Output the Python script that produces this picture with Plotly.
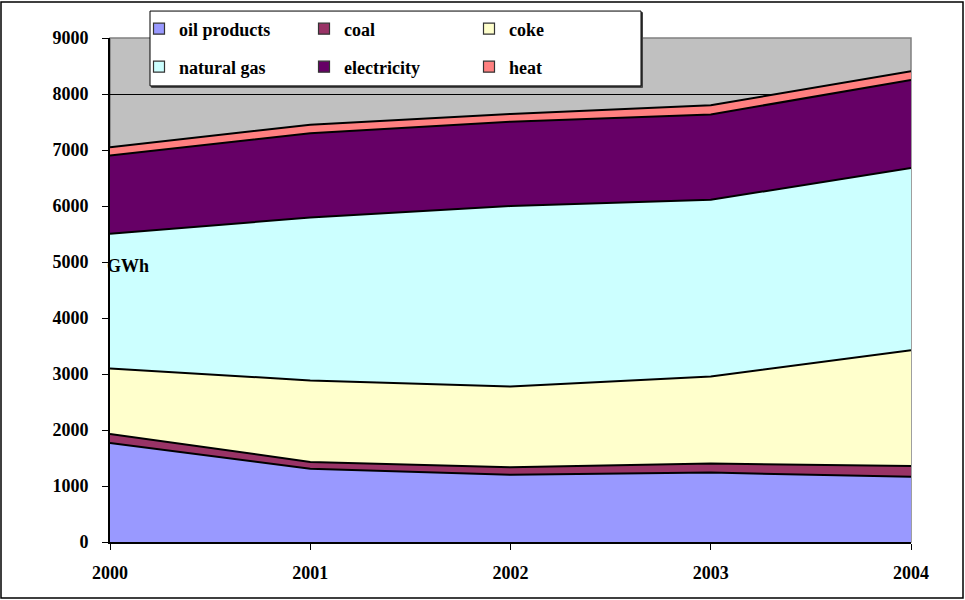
import plotly.graph_objects as go

years = [2000, 2001, 2002, 2003, 2004]
year_labels = ["2000", "2001", "2002", "2003", "2004"]

# GWh by carrier (stacked bottom to top)
oil_products = [1770, 1310, 1200, 1240, 1165]
coal = [160, 120, 135, 160, 190]
coke = [1170, 1455, 1440, 1555, 2070]
natural_gas = [2405, 2910, 3225, 3155, 3255]
electricity = [1395, 1505, 1505, 1525, 1570]
heat = [150, 150, 140, 165, 155]

series_names = ["oil products", "coal", "coke", "natural gas", "electricity", "heat"]
series_values = [oil_products, coal, coke, natural_gas, electricity, heat]
series_colors = ["#9999FF", "#993366", "#FFFFCC", "#CCFFFF", "#660066", "#FF8080"]
legend_ids = ["legend", "legend", "legend", "legend2", "legend2", "legend2"]

y_ticks = list(range(0, 9001, 1000))

W, H = 965, 600
ML, MR, MT, MB = 110, 54, 37, 58
PW, PH = W - ML - MR, H - MT - MB

FONT = "Liberation Serif, Times New Roman, serif"

fig = go.Figure()
for name, vals, col in zip(series_names, series_values, series_colors):
    fig.add_trace(go.Scatter(
        x=years, y=vals, name=name, mode="lines",
        stackgroup="energy", fillcolor=col,
        line=dict(color="black", width=2),
        showlegend=False, hoverinfo="x+y+name",
    ))

# square swatches for the legend
for name, col, lg in zip(series_names, series_colors, legend_ids):
    fig.add_trace(go.Scatter(
        x=[None], y=[None], name=name, mode="markers",
        marker=dict(symbol="square", size=11, color=col,
                    line=dict(color="#333333", width=1.2)),
        legend=lg, showlegend=True, hoverinfo="skip",
    ))


def px_x(p):
    return (p - ML) / PW


def px_y(p):
    return (H - MB - p) / PH


legend_common = dict(
    orientation="h", xanchor="left", yanchor="middle",
    bgcolor="rgba(0,0,0,0)", borderwidth=0,
    font=dict(family=FONT, size=18, color="black", weight="bold"),
    entrywidth=120, entrywidthmode="pixels",
    itemwidth=30, traceorder="normal",
)

tick_font = dict(family=FONT, size=18, color="black", weight="bold")

fig.update_layout(
    width=W, height=H,
    margin=dict(l=ML, r=MR, t=MT, b=MB),
    paper_bgcolor="white", plot_bgcolor="#C0C0C0",
    font=dict(family=FONT, size=18, color="black"),
    showlegend=True,
    legend=dict(x=px_x(139), y=px_y(29), **legend_common),
    legend2=dict(x=px_x(139), y=px_y(67), **legend_common),
    xaxis=dict(
        range=[2000, 2004], tickvals=years, ticktext=year_labels,
        showgrid=False, zeroline=False,
        showline=True, linecolor="black", linewidth=2,
        ticks="outside", ticklen=6, tickcolor="black", tickwidth=1.2,
        tickfont=tick_font, ticklabelstandoff=7,
    ),
    yaxis=dict(
        range=[0, 9000], tickvals=y_ticks,
        showgrid=True, gridcolor="black", gridwidth=1,
        zeroline=False,
        showline=True, linecolor="black", linewidth=2,
        ticks="outside", ticklen=6, tickcolor="black", tickwidth=1.2,
        tickfont=tick_font, ticklabelstandoff=10,
    ),
    shapes=[
        # plot area border
        dict(type="rect", xref="paper", yref="paper",
             x0=0, x1=1, y0=0, y1=1,
             line=dict(color="#808080", width=1.5), fillcolor="rgba(0,0,0,0)",
             layer="below"),
        # outer frame of the chart
        dict(type="rect", xref="paper", yref="paper",
             x0=px_x(1), x1=px_x(W - 2), y0=px_y(H - 2), y1=px_y(1),
             line=dict(color="black", width=1.5), fillcolor="rgba(0,0,0,0)",
             layer="above"),
        # legend box shadow and box
        dict(type="rect", xref="paper", yref="paper",
             x0=px_x(151.5), x1=px_x(642.5), y0=px_y(86.5), y1=px_y(11.5),
             line=dict(color="#444444", width=1), fillcolor="#444444",
             layer="above"),
        dict(type="rect", xref="paper", yref="paper",
             x0=px_x(150), x1=px_x(641), y0=px_y(85), y1=px_y(10),
             line=dict(color="black", width=1), fillcolor="white",
             layer="above"),
    ],
    annotations=[
        dict(text="<b>GWh</b>", xref="paper", yref="paper",
             x=px_x(105), y=px_y(265), xanchor="left", yanchor="middle",
             showarrow=False, font=dict(family=FONT, size=18, color="black")),
    ],
)

fig.write_html("out.html")
